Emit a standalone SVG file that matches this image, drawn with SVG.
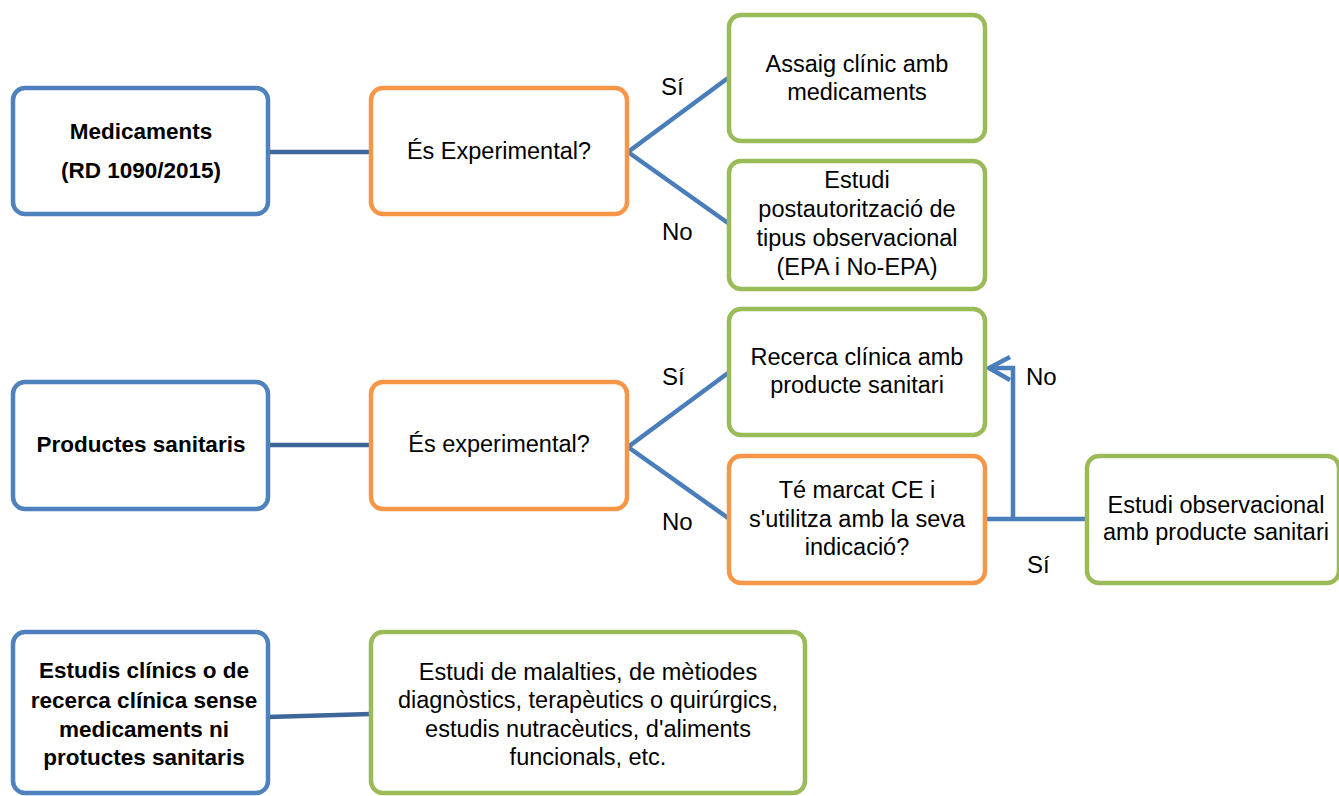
<svg xmlns="http://www.w3.org/2000/svg" width="1339" height="796" viewBox="0 0 1339 796">
<style>
.box{fill:#fff;stroke-width:4.5}
.blue{stroke:#4F81BD}
.orange{stroke:#F79646}
.green{stroke:#9BBB59}
text{font-family:"Liberation Sans",Arial,sans-serif;font-size:23.5px;fill:#000;text-anchor:middle}
.b{font-weight:bold;font-size:22.5px}
.lbl{text-anchor:start;font-size:24px}
.con{stroke:#4A7EBB;stroke-width:4.5;fill:none}
.dark{stroke:#3E6699}
</style>
<rect width="1339" height="796" fill="#fff"/>
<g id="connectors">
<line class="con dark" x1="268" y1="152" x2="371" y2="152"/>
<polyline class="con" points="728,78 628,152 728,223"/>
<line class="con dark" x1="268" y1="445" x2="371" y2="445"/>
<polyline class="con" points="728,373 628,447 728,518"/>
<line class="con dark" x1="268" y1="717" x2="371" y2="714"/>
<polyline class="con" points="985,519 1085,519"/>
<polyline class="con" points="1013,519 1013,368 990,368"/>
<polyline class="con" points="1010,357 989,368 1010,380" stroke-linejoin="miter"/>
<text class="lbl" x="661" y="95">Sí</text>
<text class="lbl" x="662" y="240">No</text>
<text class="lbl" x="662" y="385">Sí</text>
<text class="lbl" x="662" y="530">No</text>
<text class="lbl" x="1026" y="385">No</text>
<text class="lbl" x="1027" y="573">Sí</text>
</g>
<g id="n-medicaments">
<rect class="box blue" x="13" y="88" width="255" height="126" rx="12"/>
<text class="b" x="141" y="139">Medicaments</text>
<text class="b" x="141" y="178">(RD 1090/2015)</text>
</g>
<g id="n-experimental1">
<rect class="box orange" x="371" y="88" width="256" height="126" rx="12"/>
<text x="499" y="159">És Experimental?</text>
</g>
<g id="n-assaig">
<rect class="box green" x="729" y="15" width="256" height="126" rx="12"/>
<text x="857" y="72">Assaig clínic amb</text>
<text x="857" y="100">medicaments</text>
</g>
<g id="n-postaut">
<rect class="box green" x="729" y="161" width="256" height="128" rx="12"/>
<text x="857" y="188">Estudi</text>
<text x="857" y="217">postautorització de</text>
<text x="857" y="246">tipus observacional</text>
<text x="857" y="275">(EPA i No-EPA)</text>
</g>
<g id="n-productes">
<rect class="box blue" x="13" y="382" width="255" height="127" rx="12"/>
<text class="b" x="141" y="452">Productes sanitaris</text>
</g>
<g id="n-experimental2">
<rect class="box orange" x="371" y="382" width="256" height="127" rx="12"/>
<text x="499" y="452">És experimental?</text>
</g>
<g id="n-recerca">
<rect class="box green" x="729" y="309" width="256" height="126" rx="12"/>
<text x="857" y="365">Recerca clínica amb</text>
<text x="857" y="393">producte sanitari</text>
</g>
<g id="n-marcat">
<rect class="box orange" x="729" y="456" width="256" height="127" rx="12"/>
<text x="857" y="498">Té marcat CE i</text>
<text x="857" y="527">s'utilitza amb la seva</text>
<text x="857" y="555">indicació?</text>
</g>
<g id="n-observacional">
<rect class="box green" x="1087" y="456" width="252" height="127" rx="12"/>
<text x="1216" y="513">Estudi observacional</text>
<text x="1216" y="540">amb producte sanitari</text>
</g>
<g id="n-estudis">
<rect class="box blue" x="13" y="632" width="255" height="161" rx="12"/>
<text class="b" x="144" y="678">Estudis clínics o de</text>
<text class="b" x="144" y="708">recerca clínica sense</text>
<text class="b" x="144" y="737">medicaments ni</text>
<text class="b" x="144" y="765">protuctes sanitaris</text>
</g>
<g id="n-malalties">
<rect class="box green" x="371" y="632" width="434" height="161" rx="12"/>
<text x="588" y="680">Estudi de malalties, de mètiodes</text>
<text x="588" y="708">diagnòstics, terapèutics o quirúrgics,</text>
<text x="588" y="737">estudis nutracèutics, d'aliments</text>
<text x="588" y="765">funcionals, etc.</text>
</g>
</svg>
